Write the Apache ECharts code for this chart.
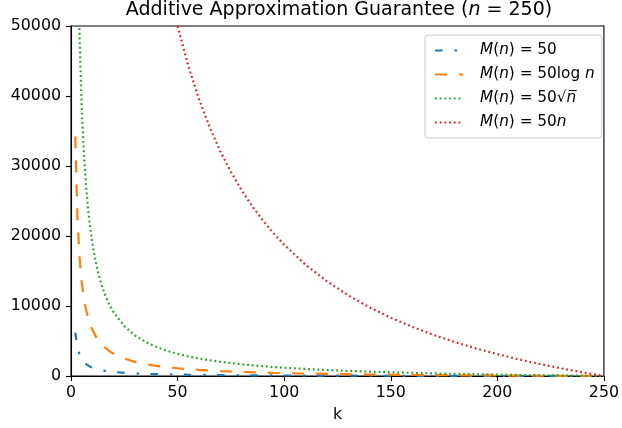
<!DOCTYPE html>
<html>
<head>
<meta charset="utf-8">
<script src="https://cdn.jsdelivr.net/npm/echarts@6/dist/echarts.min.js"></script>
<style>html,body{margin:0;padding:0;background:#fff}#c{width:622px;height:428px}</style>
</head>
<body>
<div id="c"></div>
<script>
// k values (x axis)
const ks = [2,3,4,5,6,7,8,9,10,12,14,16,18,20,25,30,35,40,45,50,55,60,65,70,75,80,85,90,95,100,110,120,130,140,150,160,170,180,190,200,210,220,230,240,250];
// M(n) = 50
const constVals = [6200,4117,3075,2450,2033,1736,1513,1339,1200,992,843,731,644,575,450,367,307,263,228,200,177,158,142,129,117,106,97,89,82,75,64,54,46,39,33,28,24,19,16,12.5,10,7,4,2,0];
// M(n) = 50 log n
const logVals = [34233,22730,16978,13527,11227,9583,8351,7393,6626,5475,4654,4037,3558,3175,2485,2025,1696,1449,1258,1104,979,874,786,710,644,587,536,491,450,414,351,299,255,217,184,155,130,107,87,69,53,38,24,12,0];
// M(n) = 50 sqrt(n)
const sqrtVals = [98031,65090,48620,38738,32150,27444,23915,21170,18974,15680,13327,11562,10190,9092,7115,5797,4856,4150,3602,3162,2803,2503,2250,2033,1845,1680,1535,1405,1290,1186,1006,856,730,621,527,445,372,307,250,198,151,108,69,33,0];
// M(n) = 50 n
const linVals = [1550000,1027778,768750,612500,508333,433929,378125,334722,300000,247917,210714,182813,161111,143750,112500,91667,76786,65625,56944,50000,44318,39583,35577,32143,29167,26563,24265,22222,20395,18750,15909,13542,11538,9821,8333,7031,5882,4861,3947,3125,2381,1705,1087,521,0];
const xTicks = [0,50,100,150,200,250];
const yTicks = [0,10000,20000,30000,40000,50000];
const seriesNames = ['const','log','sqrt','lin'];
const legendLabels = {
  const: '{i|M}({i|n}) = 50',
  log: '{i|M}({i|n}) = 50log {i|n}',
  sqrt: '{i|M}({i|n}) = 50√{i|n\u0305}',
  lin: '{i|M}({i|n}) = 50{i|n}'
};

const pair = vals => ks.map((k, i) => [k, vals[i]]);
const FONT = 'DejaVu Sans';
const TICK = 15.8;
const chart = echarts.init(document.getElementById('c'), null, {renderer: 'canvas'});
const mk = (name, vals, color, dash) => ({
  name, type: 'line', data: pair(vals), symbol: 'none', showSymbol: false,
  clip: true, animation: false,
  lineStyle: {color, width: 2.2, type: dash, cap: 'butt'},
  itemStyle: {color}
});
chart.setOption({
  animation: false,
  backgroundColor: '#fff',
  title: {
    text: '{r|Additive Approximation Guarantee (}{i|n}{r| = 250)}',
    left: 339, textAlign: 'center', top: 1, padding: 0,
    textStyle: {
      fontWeight: 'normal',
      rich: {
        r: {fontFamily: FONT, fontSize: 19, fontWeight: 'normal', color: '#000'},
        i: {fontFamily: FONT, fontSize: 19, fontWeight: 'normal', fontStyle: 'italic', color: '#000'}
      }
    }
  },
  grid: {left: 71, right: 15, top: 26, bottom: 52, show: true, borderColor: '#000', borderWidth: 1.1, backgroundColor: 'transparent'},
  legend: {
    orient: 'vertical', left: 425, top: 35,
    padding: [8, 7, 8, 9],
    itemWidth: 28, itemHeight: 14, itemGap: 9,
    backgroundColor: 'rgba(255,255,255,0.8)', borderColor: '#ccc', borderWidth: 1, borderRadius: 3,
    data: seriesNames,
    itemStyle: {opacity: 0},
    formatter: n => legendLabels[n],
    textStyle: {
      fontFamily: FONT, fontSize: 15.3, color: '#000', padding: [0, 0, 0, 12],
      rich: {
        i: {fontFamily: FONT, fontSize: 15.3, fontStyle: 'italic', color: '#000'}
      }
    }
  },
  xAxis: {
    type: 'value', min: 0, max: 250, interval: 50,
    name: 'k', nameLocation: 'middle', nameGap: 31,
    nameTextStyle: {fontFamily: FONT, fontSize: TICK, color: '#000'},
    axisLine: {show: true, onZero: false, lineStyle: {color: '#000', width: 1.1}},
    axisTick: {show: true, length: 5, lineStyle: {color: '#000', width: 1.1}},
    axisLabel: {fontFamily: FONT, fontSize: TICK, color: '#000', margin: 9, formatter: v => xTicks.includes(v) ? String(v) : ''},
    splitLine: {show: false}
  },
  yAxis: {
    type: 'value', min: 0, max: 50000, interval: 10000,
    axisLine: {show: true, onZero: false, lineStyle: {color: '#000', width: 1.1}},
    axisTick: {show: true, length: 5, lineStyle: {color: '#000', width: 1.1}},
    axisLabel: {fontFamily: FONT, fontSize: TICK, color: '#000', margin: 10, formatter: v => yTicks.includes(v) ? String(v) : ''},
    splitLine: {show: false}
  },
  series: [
    mk('const', constVals, '#1f77b4', [7.5, 12, 2.5, 11.3]),
    mk('log', logVals, '#ff7f0e', [12, 12]),
    mk('sqrt', sqrtVals, '#2ca02c', [1.8, 2.9]),
    mk('lin', linVals, '#d62728', [1.8, 2.9])
  ]
});
</script>
</body>
</html>
